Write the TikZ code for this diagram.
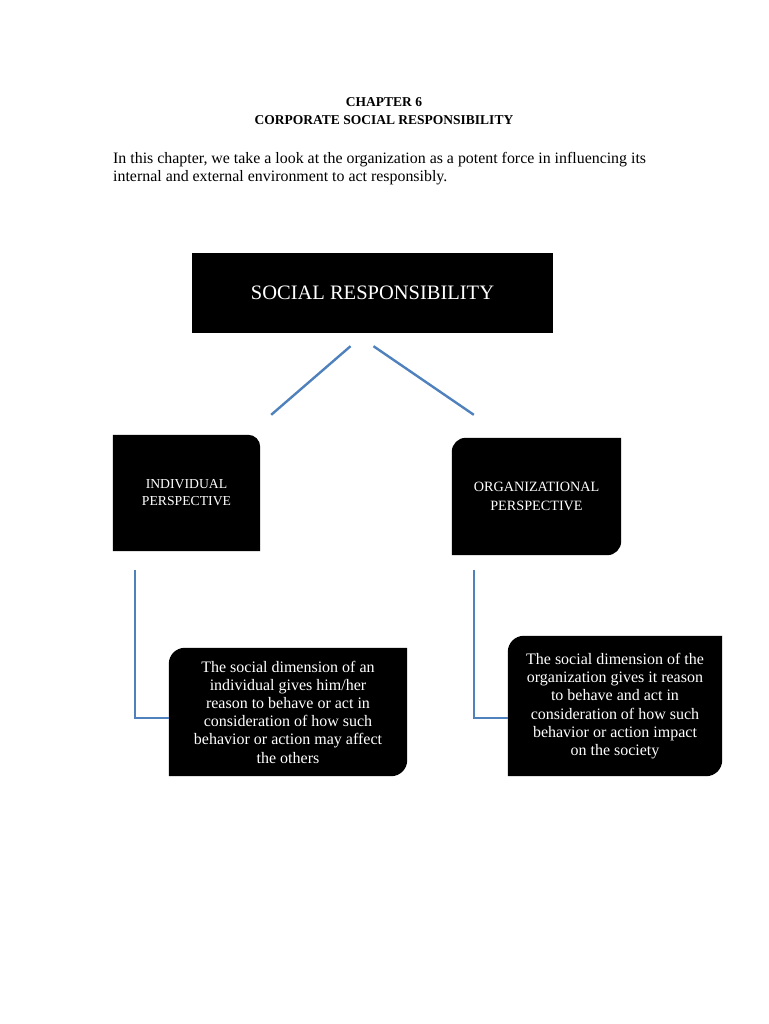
\documentclass[tikz,border=0pt]{standalone}
\usepackage{fontspec}
\setmainfont{Liberation Serif}
\usetikzlibrary{backgrounds}

\begin{document}
\begin{tikzpicture}[x=1pt,y=1pt,
    blk/.style={text=white, inner sep=0pt, align=center},
    link/.style={draw={rgb,255:red,79;green,129;blue,189}, line width=2.4pt}]
  \useasboundingbox (0,0) rectangle (768,-1024);

  \node [font=\fontsize{13.5}{18}\selectfont\bfseries, align=center] (head) at (384,-111)
    {CHAPTER 6\\CORPORATE SOCIAL RESPONSIBILITY};
  \node [font=\fontsize{15.9}{18}\selectfont, align=left, anchor=west, inner sep=0pt] (intro) at (113,-169)
    {In this chapter, we take a look at the organization as a potent force in influencing its\\
     internal and external environment to act responsibly.};

  \node [blk, minimum width=361pt, minimum height=80pt, font=\fontsize{20.5}{24}\selectfont] (sr) at (372.5,-293)
    {SOCIAL RESPONSIBILITY};
  \node [blk, minimum width=147pt, minimum height=116pt, font=\fontsize{13.7}{17}\selectfont] (indiv) at (186.5,-493)
    {INDIVIDUAL\\PERSPECTIVE};
  \node [blk, minimum width=169pt, minimum height=117pt, font=\fontsize{14.2}{19}\selectfont] (org) at (536.5,-496.5)
    {ORGANIZATIONAL\\PERSPECTIVE};
  \node [blk, minimum width=238pt, minimum height=128pt, font=\fontsize{16}{18.2}\selectfont] (dimind) at (288,-712)
    {The social dimension of an\\individual gives him/her\\reason to behave or act in\\consideration of how such\\behavior or action may affect\\the others};
  \node [blk, minimum width=214pt, minimum height=140pt, font=\fontsize{16}{18.2}\selectfont] (dimorg) at (615,-706)
    {The social dimension of the\\organization gives it reason\\to behave and act in\\consideration of how such\\behavior or action impact\\on the society};

  \begin{scope}[on background layer]
    \fill [white] (0,0) rectangle (768,-1024);
    \fill (sr.south west) rectangle (sr.north east);
    \fill (indiv.south west) -- (indiv.north west) -- ([xshift=-12pt]indiv.north east)
      arc[start angle=90, end angle=0, radius=12pt] -- (indiv.south east) -- cycle;
    \fill ([yshift=-14pt]org.north west) arc[start angle=180, end angle=90, radius=14pt]
      -- (org.north east) -- ([yshift=14pt]org.south east)
      arc[start angle=0, end angle=-90, radius=14pt] -- (org.south west) -- cycle;
    \fill ([yshift=-16pt]dimind.north west) arc[start angle=180, end angle=90, radius=16pt]
      -- (dimind.north east) -- ([yshift=16pt]dimind.south east)
      arc[start angle=0, end angle=-90, radius=16pt] -- (dimind.south west) -- cycle;
    \fill ([yshift=-16pt]dimorg.north west) arc[start angle=180, end angle=90, radius=16pt]
      -- (dimorg.north east) -- ([yshift=16pt]dimorg.south east)
      arc[start angle=0, end angle=-90, radius=16pt] -- (dimorg.south west) -- cycle;
  \end{scope}

  \draw [link] ([xshift=-22pt,yshift=-13pt]sr.south) -- ([xshift=11pt,yshift=20pt]indiv.north east);
  \draw [link] ([xshift=1pt,yshift=-13pt]sr.south) -- ([xshift=22pt,yshift=23pt]org.north west);
  \draw [link] ([xshift=22pt,yshift=-19pt]indiv.south west) |- ([yshift=-6pt]dimind.west);
  \draw [link] ([xshift=22pt,yshift=-15pt]org.south west) |- ([yshift=-12pt]dimorg.west);
\end{tikzpicture}
\end{document}
